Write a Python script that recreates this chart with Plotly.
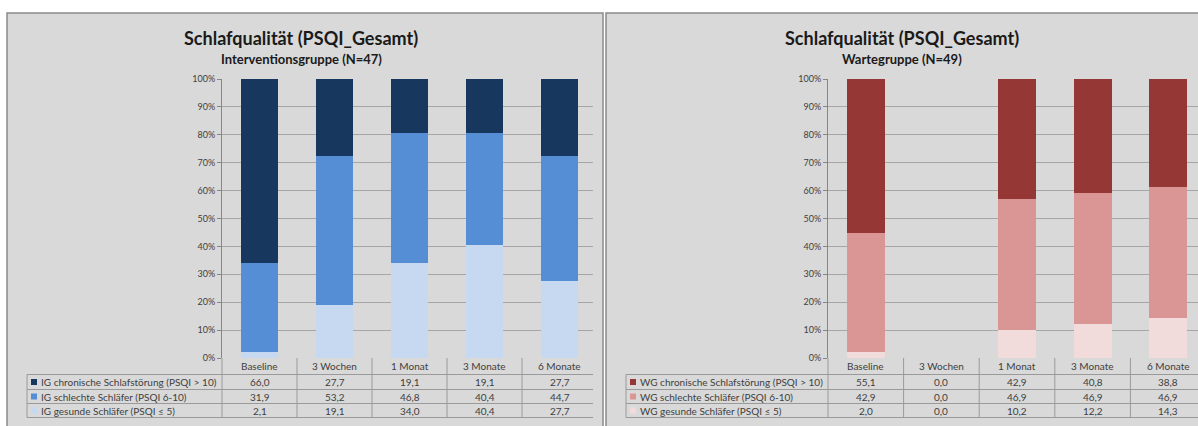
import plotly.graph_objects as go

# ---------------- data ----------------
categories = ["Baseline", "3 Wochen", "1 Monat", "3 Monate", "6 Monate"]

ig_chronisch = [66.0, 27.7, 19.1, 19.1, 27.7]
ig_schlecht = [31.9, 53.2, 46.8, 40.4, 44.7]
ig_gesund = [2.1, 19.1, 34.0, 40.4, 27.7]

wg_chronisch = [55.1, 0.0, 42.9, 40.8, 38.8]
wg_schlecht = [42.9, 0.0, 46.9, 46.9, 46.9]
wg_gesund = [2.0, 0.0, 10.2, 12.2, 14.3]

ig_names = ["IG chronische Schlafstörung (PSQI > 10)",
            "IG schlechte Schläfer (PSQI 6-10)",
            "IG gesunde Schläfer (PSQI ≤ 5)"]
wg_names = ["WG chronische Schlafstörung (PSQI > 10)",
            "WG schlechte Schläfer (PSQI 6-10)",
            "WG gesunde Schläfer (PSQI ≤ 5)"]

y_ticks = [0, 10, 20, 30, 40, 50, 60, 70, 80, 90, 100]
y_tick_labels = ["0%", "10%", "20%", "30%", "40%", "50%", "60%", "70%", "80%", "90%", "100%"]

title_main = "Schlafqualität (PSQI_Gesamt)"
sub_ig = "Interventionsgruppe (N=47)"
sub_wg = "Wartegruppe (N=49)"

# ---------------- styling ----------------
W, H = 1198, 426
FONT = "Lato"
IG_COLORS = ["#17375E", "#558ED5", "#C6D9F1"]
WG_COLORS = ["#953735", "#D99694", "#F2DCDB"]
PANEL_BG = "#D9D9D9"
PANEL_BORDER = "#8A8A8A"
GRID = "#A6A6A6"
TABLE_LINE = "#9A9A9A"
TXT = "#404040"


def px(x):
    return x / W


def py(y):
    return 1 - y / H


def fmt(v):
    return f"{v:.1f}".replace(".", ",")


fig = go.Figure()
shapes = []
annotations = []

panels = [
    dict(xa="x", ya="y", left=7, right=593, plot_l=222, colw=75.0, leg_l=27,
         series=[ig_chronisch, ig_schlecht, ig_gesund], names=ig_names,
         colors=IG_COLORS, sub=sub_ig, center=301),
    dict(xa="x2", ya="y2", left=606, right=1198, plot_l=828, colw=75.6, leg_l=626,
         series=[wg_chronisch, wg_schlecht, wg_gesund], names=wg_names,
         colors=WG_COLORS, sub=sub_wg, center=902),
]

PLOT_TOP, PLOT_BOT = 79, 358
ROW_LINES = [374.5, 389.5, 403.5, 417.5]
ROW_CENTERS = [382, 396.5, 410.5]
HEADER_Y = 366

for k, p in enumerate(panels):
    shapes.append(dict(type="rect", xref="paper", yref="paper",
                       x0=px(p["left"]), x1=px(p["right"] + 10),
                       y0=py(H + 10), y1=py(13),
                       fillcolor=PANEL_BG, line=dict(color=PANEL_BORDER, width=1.5),
                       layer="below"))
    annotations.append(dict(text=f"<b>{title_main}</b>", xref="paper", yref="paper",
                            x=px(p["center"]), y=py(38), showarrow=False,
                            font=dict(family=FONT, size=18, color="#1a1a1a"),
                            xanchor="center", yanchor="middle"))
    annotations.append(dict(text=f"<b>{p['sub']}</b>", xref="paper", yref="paper",
                            x=px(p["center"]), y=py(59), showarrow=False,
                            font=dict(family=FONT, size=13, color="#1a1a1a"),
                            xanchor="center", yanchor="middle"))

    for idx in [2, 1, 0]:
        fig.add_trace(go.Bar(x=categories, y=p["series"][idx], name=p["names"][idx],
                             marker=dict(color=p["colors"][idx], line=dict(width=0)),
                             xaxis=p["xa"], yaxis=p["ya"], showlegend=False,
                             hoverinfo="x+y"))

    xr = p["xa"]
    crop_r = min(p["right"], p["plot_l"] + 5 * p["colw"])
    for ry in ROW_LINES:
        shapes.append(dict(type="line", xref="paper", yref="paper",
                           x0=px(p["leg_l"]), x1=px(crop_r), y0=py(ry), y1=py(ry),
                           line=dict(color=TABLE_LINE, width=1)))
    shapes.append(dict(type="line", xref="paper", yref="paper",
                       x0=px(p["leg_l"]), x1=px(p["leg_l"]),
                       y0=py(ROW_LINES[0]), y1=py(ROW_LINES[-1]),
                       line=dict(color=TABLE_LINE, width=1)))
    for i in range(len(categories) + 1):
        if i == 0:
            xx, xref = px(p["plot_l"]), "paper"
        else:
            xx, xref = i - 0.5, xr
        shapes.append(dict(type="line", xref=xref, yref="paper",
                           x0=xx, x1=xx, y0=py(PLOT_BOT), y1=py(ROW_LINES[-1]),
                           line=dict(color=TABLE_LINE, width=1)))
    for c in categories:
        annotations.append(dict(text=c, xref=xr, yref="paper", x=c, y=py(HEADER_Y),
                                showarrow=False, xanchor="center", yanchor="middle",
                                font=dict(family=FONT, size=10, color=TXT)))
    for r in range(3):
        vals = p["series"][r]
        for c, v in zip(categories, vals):
            annotations.append(dict(text=fmt(v), xref=xr, yref="paper", x=c,
                                    y=py(ROW_CENTERS[r]), showarrow=False,
                                    xanchor="center", yanchor="middle",
                                    font=dict(family=FONT, size=10, color=TXT)))
        kx = p["leg_l"] + 4
        shapes.append(dict(type="rect", xref="paper", yref="paper",
                           x0=px(kx), x1=px(kx + 6),
                           y0=py(ROW_CENTERS[r] + 3), y1=py(ROW_CENTERS[r] - 3),
                           fillcolor=p["colors"][r], line=dict(width=0)))
        annotations.append(dict(text=p["names"][r], xref="paper", yref="paper",
                                x=px(kx + 8), y=py(ROW_CENTERS[r]), showarrow=False,
                                xanchor="left", yanchor="middle",
                                font=dict(family=FONT, size=10, color=TXT)))

for k, p in enumerate(panels):
    suffix = "" if k == 0 else "2"
    x_max = -0.5 + (p["right"] - p["plot_l"]) / p["colw"]
    fig.update_layout(**{
        f"xaxis{suffix}": dict(domain=[px(p["plot_l"]), px(p["right"])],
                               range=[-0.5, x_max], showticklabels=False,
                               showgrid=False, zeroline=False, showline=False,
                               ticks="", anchor=f"y{suffix}", fixedrange=True,
                               automargin=False,
                               type="category", categoryorder="array",
                               categoryarray=categories),
        f"yaxis{suffix}": dict(domain=[py(PLOT_BOT), py(PLOT_TOP)], range=[0, 100],
                               tickmode="array", tickvals=y_ticks, ticktext=y_tick_labels,
                               showgrid=True, gridcolor=GRID, gridwidth=1,
                               zeroline=False, showline=True, linecolor="#868686",
                               linewidth=1, ticks="outside", ticklen=4,
                               tickcolor="#868686", automargin=False,
                               tickfont=dict(family=FONT, size=9, color=TXT),
                               anchor=f"x{suffix}", fixedrange=True),
    })

fig.update_layout(
    width=W, height=H, autosize=False,
    margin=dict(l=0, r=0, t=0, b=0, pad=0, autoexpand=False),
    paper_bgcolor="white", plot_bgcolor="white",
    barmode="stack", bargap=0.5,
    shapes=shapes, annotations=annotations,
    showlegend=False,
    font=dict(family=FONT, color=TXT),
)

fig.write_html("out.html",
               config={"displayModeBar": False},
               post_script="document.body.style.margin='0';document.body.style.overflow='hidden';")
